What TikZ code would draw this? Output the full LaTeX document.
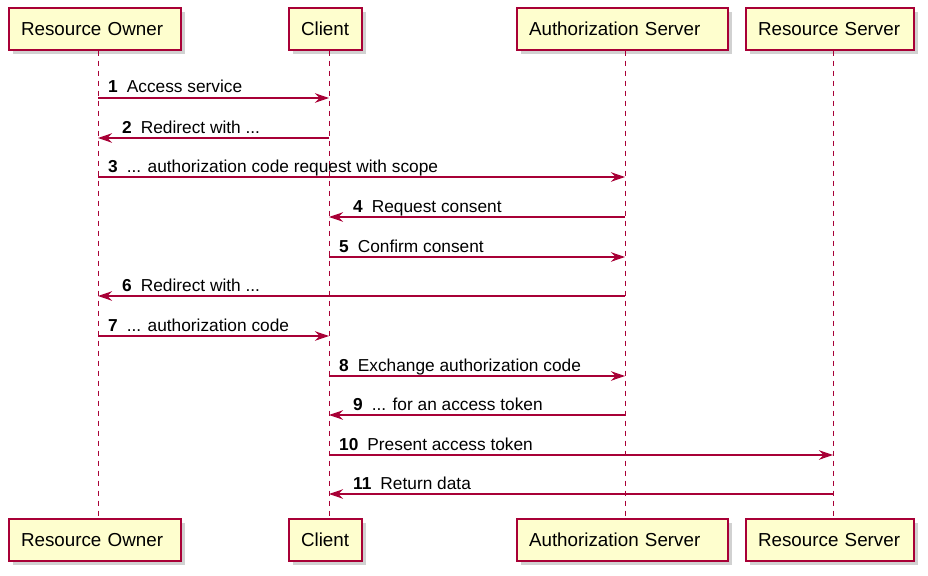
\documentclass[tikz,border=0pt]{standalone}
\usepackage{fontspec}
\setmainfont{Liberation Sans}
\usetikzlibrary{arrows.meta,shadows,calc}
\definecolor{pfill}{HTML}{FEFECE}
\definecolor{pline}{HTML}{A80036}
\tikzset{
  part/.style={draw=pline, fill=pfill, line width=1.4pt, minimum height=42pt,
    inner xsep=12pt, inner ysep=0pt, align=left, font=\fontsize{18.8}{20}\selectfont,
    drop shadow={shadow xshift=4pt, shadow yshift=-4pt, fill=black!45, opacity=0.4}},
  life/.style={draw=pline, line width=1pt, dash pattern=on 5pt off 5pt},
  msg/.style={draw=pline, line width=1.3pt, -{Stealth[length=14pt,width=9.5pt,inset=4.5pt]}},
  mlabel/.style={anchor=base west, inner sep=0pt, font=\fontsize{17.3}{19}\selectfont},
}
\newcommand{\mnum}[2]{\textbf{#1}\hspace{9pt}#2}
\begin{document}
\begin{tikzpicture}[x=1pt,y=-1pt]
\useasboundingbox (0,0) rectangle (928,575);
% top participants
\node[part, text width=148pt] (ro) at (95,29) {\raisebox{-1pt}{Resource Owner}};
\node[part, text width=49pt] (cl) at (325.5,29) {\raisebox{-1pt}{Client}};
\node[part, text width=187pt] (as) at (622.5,29) {\raisebox{-1pt}{Authorization Server}};
\node[part, text width=144pt] (rs) at (830,29) {\raisebox{-1pt}{Resource Server}};
% bottom participants
\node[part, text width=148pt] (ro2) at (95,540) {\raisebox{-1pt}{Resource Owner}};
\node[part, text width=49pt] (cl2) at (325.5,540) {\raisebox{-1pt}{Client}};
\node[part, text width=187pt] (as2) at (622.5,540) {\raisebox{-1pt}{Authorization Server}};
\node[part, text width=144pt] (rs2) at (830,540) {\raisebox{-1pt}{Resource Server}};
% lifeline coordinates
\coordinate (RO) at ($(ro.south)+(3,0)$);
\coordinate (CL) at ($(cl.south)+(3.5,0)$);
\coordinate (AS) at ($(as.south)+(2.5,0)$);
\coordinate (RS) at ($(rs.south)+(3,0)$);
\draw[life] (RO) -- (RO |- ro2.north);
\draw[life] (CL) -- (CL |- cl2.north);
\draw[life] (AS) -- (AS |- as2.north);
\draw[life] (RS) -- (RS |- rs2.north);
% messages
\draw[msg] (RO |- 0,98) -- (CL |- 0,98);
\node[mlabel] (t1) at ($(RO |- 0,93)+(10,0)$) {\mnum{1}{Access service}};
\draw[msg] (CL |- 0,138) -- (RO |- 0,138);
\node[mlabel] (t2) at ($(RO |- 0,133)+(24,0)$) {\mnum{2}{Redirect with ...}};
\draw[msg] (RO |- 0,177) -- (AS |- 0,177);
\node[mlabel] (t3) at ($(RO |- 0,172)+(10,0)$) {\mnum{3}{... authorization code request with scope}};
\draw[msg] (AS |- 0,217) -- (CL |- 0,217);
\node[mlabel] (t4) at ($(CL |- 0,212)+(24,0)$) {\mnum{4}{Request consent}};
\draw[msg] (CL |- 0,257) -- (AS |- 0,257);
\node[mlabel] (t5) at ($(CL |- 0,252)+(10,0)$) {\mnum{5}{Confirm consent}};
\draw[msg] (AS |- 0,296) -- (RO |- 0,296);
\node[mlabel] (t6) at ($(RO |- 0,291)+(24,0)$) {\mnum{6}{Redirect with ...}};
\draw[msg] (RO |- 0,336) -- (CL |- 0,336);
\node[mlabel] (t7) at ($(RO |- 0,331)+(10,0)$) {\mnum{7}{... authorization code}};
\draw[msg] (CL |- 0,376) -- (AS |- 0,376);
\node[mlabel] (t8) at ($(CL |- 0,371)+(10,0)$) {\mnum{8}{Exchange authorization code}};
\draw[msg] (AS |- 0,415) -- (CL |- 0,415);
\node[mlabel] (t9) at ($(CL |- 0,410)+(24,0)$) {\mnum{9}{... for an access token}};
\draw[msg] (CL |- 0,455) -- (RS |- 0,455);
\node[mlabel] (t10) at ($(CL |- 0,450)+(10,0)$) {\mnum{10}{Present access token}};
\draw[msg] (RS |- 0,494) -- (CL |- 0,494);
\node[mlabel] (t11) at ($(CL |- 0,489)+(24,0)$) {\mnum{11}{Return data}};
\end{tikzpicture}
\end{document}
